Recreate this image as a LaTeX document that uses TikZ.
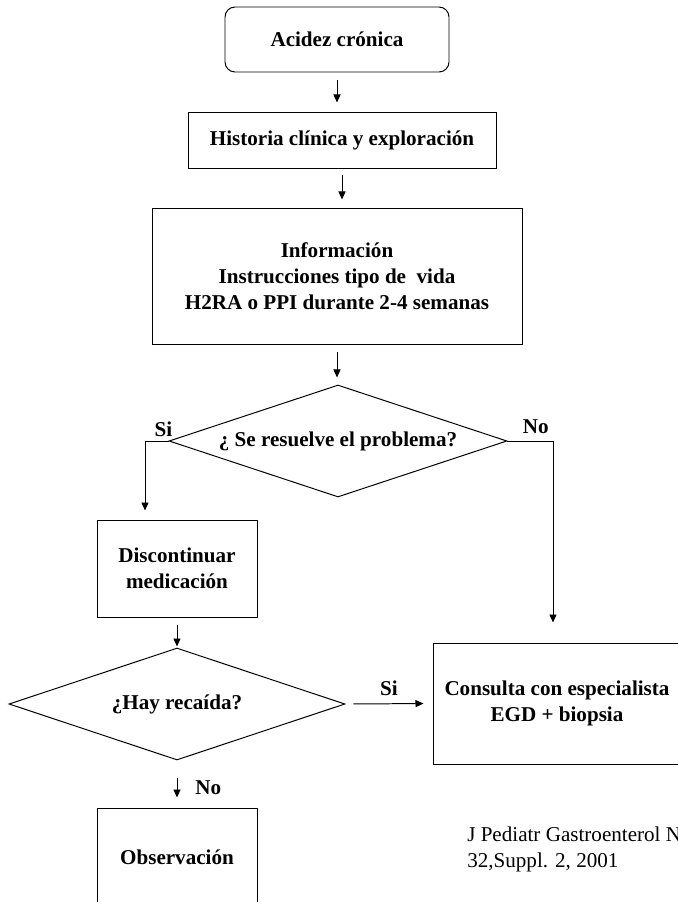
\documentclass[tikz,border=0pt]{standalone}
\usepackage{fontspec}
\setmainfont{Liberation Serif}
\usetikzlibrary{shapes.geometric,arrows.meta,positioning}

\tikzset{
    caja/.style={draw, line width=0.7pt, align=center, inner sep=0pt,
        font=\fontsize{15}{18.6}\selectfont\bfseries},
    rombo/.style={caja, diamond, aspect=3},
    flecha/.style={-{Triangle[length=5.7pt,width=5pt]}, line width=0.7pt},
    etiq/.style={inner sep=0pt, font=\fontsize{15}{18.6}\selectfont\bfseries}
}

\begin{document}
\begin{tikzpicture}[x=0.025cm, y=-0.025cm]
    % Define dimensions (one unit = one pixel of the original)
    \def\pxu{0.025cm}

    \useasboundingbox (0,0) rectangle (678,902);

    % Main column
    \node[caja, rounded corners=0.25cm, minimum width=224*\pxu, minimum height=65*\pxu] (acidez) at (337,39.5) {Acidez crónica};
    \node[caja, minimum width=308*\pxu, minimum height=56*\pxu] (historia) at (342,140) {Historia clínica y exploración};
    \node[caja, minimum width=370*\pxu, minimum height=136*\pxu] (info) at (337,276)
        {Información\\Instrucciones tipo de~ vida\\H2RA o PPI durante 2-4 semanas};
    \node[rombo, minimum width=338*\pxu, minimum height=112*\pxu] (resuelve) at (338,441) {¿ Se resuelve el problema?};

    % Left branch
    \node[caja, minimum width=160*\pxu, minimum height=97*\pxu] (discont) at (177,568.5) {Discontinuar\\medicación};
    \node[rombo, minimum width=336*\pxu, minimum height=112*\pxu] (recaida) at (177,704) {¿Hay recaída?};
    \node[caja, minimum width=160*\pxu, minimum height=98*\pxu] (observ) at (177,857) {Observación};

    % Right branch
    \node[caja, minimum width=248*\pxu, minimum height=121*\pxu] (consulta) at (557,703.5)
        {Consulta con especialista\\EGD + biopsia};

    % Reference
    \node[anchor=west, align=left, inner sep=0pt, font=\fontsize{15}{18.4}\selectfont] (ref) at (467,849)
        {J Pediatr Gastroenterol N\\32,Suppl. 2, 2001};

    % Arrows
    \draw[flecha, shorten <=8*\pxu, shorten >=9*\pxu] (acidez.south) -- (acidez.south |- historia.north);
    \draw[flecha, shorten <=7*\pxu, shorten >=8*\pxu] (historia.south) -- (historia.south |- info.north);
    \draw[flecha, shorten <=8*\pxu, shorten >=7*\pxu] (info.south) -- (info.south |- resuelve.north);
    \draw[flecha] (resuelve.west) -| ([xshift=-32*\pxu, yshift=9*\pxu]discont.north);
    \draw[flecha] (resuelve.east) -| ([xshift=-4*\pxu, yshift=20*\pxu]consulta.north);
    \draw[flecha, shorten <=7*\pxu, shorten >=1*\pxu] (discont.south) -- (recaida.north);
    \draw[flecha, shorten <=8*\pxu, shorten >=9*\pxu] (recaida.east) -- (consulta.west)
        node[etiq, midway, above=0.2cm] (si2) {Si};
    \draw[flecha, shorten <=17*\pxu, shorten >=10*\pxu] (recaida.south) -- (observ.north)
        node[etiq, pos=0.58, right=0.45cm] (no2) {No};

    % Labels of the first question
    \node[etiq, above left=0.1cm and -0.1cm of resuelve.west] (si1) {Si};
    \node[etiq, above right=0.175cm and 0.375cm of resuelve.east] (no1) {No};
\end{tikzpicture}
\end{document}
